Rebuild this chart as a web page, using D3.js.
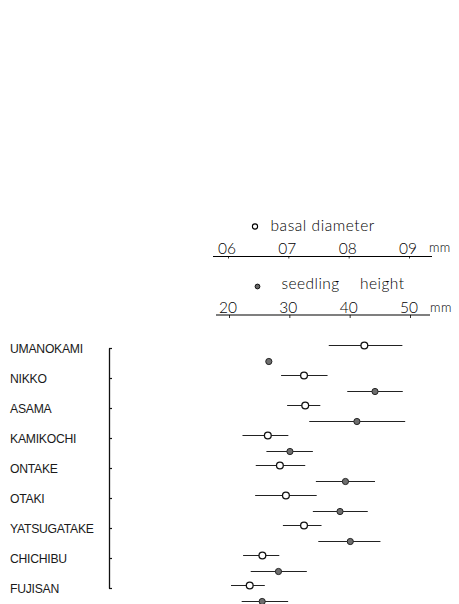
<!DOCTYPE html>
<html>
<head>
<meta charset="utf-8">
<script src="https://cdn.jsdelivr.net/npm/d3@7/dist/d3.min.js"></script>
<style>
  html, body { margin: 0; padding: 0; background: #fff; }
  svg { display: block; }
</style>
</head>
<body>
<script>
// Seedling measurements by provenance: mean with range bars
const sites = ["UMANOKAMI", "NIKKO", "ASAMA", "KAMIKOCHI", "ONTAKE", "OTAKI", "YATSUGATAKE", "CHICHIBU", "FUJISAN"];

// basal diameter (mm)
const diameterMean = [0.826, 0.726, 0.728, 0.666, 0.686, 0.696, 0.726, 0.657, 0.636];
const diameterLow  = [0.767, 0.688, 0.698, 0.624, 0.646, 0.645, 0.691, 0.625, 0.605];
const diameterHigh = [0.889, 0.765, 0.753, 0.700, 0.728, 0.747, 0.755, 0.685, 0.661];

// seedling height (mm)
const heightMean = [26.6, 44.2, 41.2, 30.1, 39.3, 38.4, 40.1, 28.2, 25.5];
const heightLow  = [26.6, 39.6, 33.3, 26.2, 34.4, 33.9, 34.8, 23.6, 22.1];
const heightHigh = [26.6, 48.8, 49.2, 33.9, 44.2, 43.0, 45.1, 32.9, 29.8];

const diameterTicks = [0.6, 0.7, 0.8, 0.9];
const diameterTickLabels = ["06", "07", "08", "09"];
const heightTicks = [20, 30, 40, 50];

const W = 459, H = 604;
const svg = d3.select("body").append("svg").attr("width", W).attr("height", H);

const axisFont = "Lato, 'DejaVu Sans', sans-serif";
const ink = "#000";
const weight = 300;

const xDia = d3.scaleLinear().domain([0.6, 0.9]).range([228, 409]);
const xHt = d3.scaleLinear().domain([20, 50]).range([229, 410]);
const y = d3.scalePoint().domain(sites).range([348, 588]);

function styleAxisText(sel) {
  sel.attr("font-family", axisFont).attr("font-weight", weight)
    .attr("font-size", 15.5).attr("fill", ink).attr("dx", -1.5);
}

// ---- basal diameter scale (top) ----
const diaY = 256.5;
svg.append("circle").attr("cx", 255).attr("cy", 226.5).attr("r", 2.6)
  .attr("fill", "#fff").attr("stroke", ink).attr("stroke-width", 1.1);
svg.append("text").attr("x", 270.5).attr("y", 230.5)
  .attr("font-family", axisFont).attr("font-weight", weight).attr("font-size", 15.5)
  .attr("letter-spacing", 0.55).attr("fill", ink).text("basal diameter");

const diaAxis = svg.append("g").attr("transform", `translate(0,${diaY})`)
  .call(d3.axisTop(xDia).tickValues(diameterTicks)
    .tickFormat((d, i) => diameterTickLabels[i])
    .tickSizeInner(-2).tickSizeOuter(0).tickPadding(3));
diaAxis.select(".domain").remove();
styleAxisText(diaAxis.selectAll("text"));
diaAxis.selectAll(".tick line").attr("stroke", "#333");
diaAxis.append("line").attr("x1", xDia(0.6) - 15).attr("x2", xDia(0.9) + 23)
  .attr("stroke", ink).attr("stroke-width", 1.1);
svg.append("text").attr("x", xDia(0.9) + 20).attr("y", diaY - 4.5)
  .attr("font-family", axisFont).attr("font-weight", weight).attr("font-size", 13)
  .attr("letter-spacing", 0.4).attr("fill", ink).text("mm");

// ---- seedling height scale ----
const htY = 315;
svg.append("circle").attr("cx", 257.5).attr("cy", 286.5).attr("r", 2.4)
  .attr("fill", "#666").attr("stroke", ink).attr("stroke-width", 0.9);
const htLegend = svg.append("text").attr("y", 289)
  .attr("font-family", axisFont).attr("font-weight", weight).attr("font-size", 15.5)
  .attr("letter-spacing", 0.45).attr("fill", ink);
htLegend.append("tspan").attr("x", 281.5).text("seedling");
htLegend.append("tspan").attr("x", 360).text("height");

const htAxis = svg.append("g").attr("transform", `translate(0,${htY})`)
  .call(d3.axisTop(xHt).tickValues(heightTicks)
    .tickSizeInner(-3).tickSizeOuter(0).tickPadding(2.5));
htAxis.select(".domain").remove();
styleAxisText(htAxis.selectAll("text"));
htAxis.selectAll(".tick line").attr("stroke", "#333");
htAxis.append("line").attr("x1", xHt(20) - 13).attr("x2", xHt(50) + 20)
  .attr("stroke", ink).attr("stroke-width", 1.1);
svg.append("text").attr("x", xHt(50) + 20).attr("y", htY - 3)
  .attr("font-family", axisFont).attr("font-weight", weight).attr("font-size", 13)
  .attr("letter-spacing", 0.6).attr("fill", ink).text("mm");

// ---- site axis ----
const siteAxis = svg.append("g").attr("transform", "translate(109,0)")
  .call(d3.axisLeft(y).tickSizeInner(-3).tickSizeOuter(0).tickPadding(0));
siteAxis.select(".domain").attr("stroke", "#111").attr("stroke-width", 1.3);
siteAxis.selectAll(".tick line").attr("stroke", "#111").attr("stroke-width", 1.2);
siteAxis.selectAll("text")
  .attr("x", -99).attr("text-anchor", "start").attr("dy", "0.36em")
  .attr("font-family", "'Liberation Sans', Arial, sans-serif")
  .attr("font-size", 12.2).attr("letter-spacing", -0.25).attr("fill", "#1a1a1a");

// ---- data marks ----
const rows = sites.map((s, i) => ({
  site: s,
  dMean: diameterMean[i], dLow: diameterLow[i], dHigh: diameterHigh[i],
  hMean: heightMean[i], hLow: heightLow[i], hHigh: heightHigh[i]
}));
const diaOffset = -2.5, htOffset = 13.5;

const marks = svg.append("g");
// range bars
marks.selectAll(".dbar").data(rows).join("line").attr("class", "dbar")
  .attr("x1", d => xDia(d.dLow)).attr("x2", d => xDia(d.dHigh))
  .attr("y1", d => y(d.site) + diaOffset).attr("y2", d => y(d.site) + diaOffset)
  .attr("stroke", "#222").attr("stroke-width", 1.2);
marks.selectAll(".hbar").data(rows).join("line").attr("class", "hbar")
  .attr("x1", d => xHt(d.hLow)).attr("x2", d => xHt(d.hHigh))
  .attr("y1", d => y(d.site) + htOffset).attr("y2", d => y(d.site) + htOffset)
  .attr("stroke", "#222").attr("stroke-width", 1.2);
// means
marks.selectAll(".dpt").data(rows).join("circle").attr("class", "dpt")
  .attr("cx", d => xDia(d.dMean)).attr("cy", d => y(d.site) + diaOffset)
  .attr("r", 3.4).attr("fill", "#fff").attr("stroke", "#111").attr("stroke-width", 1.3);
marks.selectAll(".hpt").data(rows).join("circle").attr("class", "hpt")
  .attr("cx", d => xHt(d.hMean)).attr("cy", d => y(d.site) + htOffset)
  .attr("r", 3.1).attr("fill", "#6e6e6e").attr("stroke", "#222").attr("stroke-width", 1);
</script>
</body>
</html>
